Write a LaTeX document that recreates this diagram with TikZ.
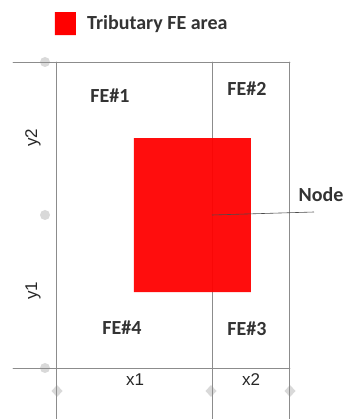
\documentclass[tikz,border=0pt]{standalone}
\usepackage{fontspec}
\setmainfont{Carlito}
\newfontfamily\axisfont{Liberation Sans}
\usepackage{tkz-euclide}
\usetikzlibrary{calc}
\definecolor{AreaClr}{rgb}{1,0,0}
\definecolor{GridClr}{rgb}{0.55,0.55,0.55}
\definecolor{TextClr}{rgb}{0.2,0.2,0.2}
\definecolor{BlobClr}{rgb}{0.85,0.85,0.85}
\tikzset{
  felabel/.style={font=\bfseries\fontsize{20}{20}\selectfont,text=TextClr,inner sep=0pt},
  spanlabel/.style={font=\axisfont\fontsize{17}{17}\selectfont,text=black!85,inner sep=0pt},
  blob/.style={fill=BlobClr,draw=none}
}

\begin{document}
\begin{tikzpicture}[scale=.3515]
\useasboundingbox (0,0) rectangle (34.5,41.9);
\tkzSetUpLine[line width=0.8pt,color=GridClr]

% grid points
\tkzDefPoints{1.3/35.7/L1,29.0/35.7/R1,1.3/5.1/L2,29.0/5.1/R2}
\tkzDefPoints{5.6/35.7/A1,5.6/0/A2,21.2/35.7/B1,21.2/0/B2,28.9/35.7/C1,28.9/0/C2}
% tributary area
\tkzDefPoints{13.4/28.1/T1,25.1/28.1/T2,25.1/12.7/T3,13.4/12.7/T4}
% legend
\tkzDefPoints{5.5/40.7/K1,7.6/40.7/K2,7.6/38.4/K3,5.5/38.4/K4}

% support blobs
\foreach \y in {35.7,20.4,5.1}
  \fill[blob] (4.5,\y) circle (0.5);
\foreach \x in {5.7,21.1,29.0}
  \fill[blob] (\x,3.4) -- (\x+0.55,2.8) -- (\x,2.2) -- (\x-0.55,2.8) -- cycle;

\tkzDrawSegments(L1,R1 L2,R2 A1,A2 B1,B2 C1,C2)

\tkzFillPolygon[fill=AreaClr,fill opacity=.95](T1,T2,T3,T4)
\tkzFillPolygon[fill=AreaClr](K1,K2,K3,K4)

\coordinate (nd) at (21.2,20.4);
\coordinate (ndend) at (31.4,20.7);
\node[felabel,anchor=east] (nodelbl) at (34.35,22.4) {Node};
\draw[line width=0.6pt,color=black!70] (nd) -- (ndend);

\node[felabel,anchor=west] (legend) at (8.7,39.5) {Tributary FE area};

\node[felabel] (fe1) at (11.0,32.3) {FE\#1};
\node[felabel] (fe2) at (24.7,33.0) {FE\#2};
\node[felabel] (fe3) at (24.7,9.0) {FE\#3};
\node[felabel] (fe4) at (12.2,9.1) {FE\#4};

\node[spanlabel] (x1) at (13.5,3.9) {x1};
\node[spanlabel] (x2) at (25.1,3.9) {x2};
\node[spanlabel,rotate=90] (y2) at (3.3,28.1) {y2};
\node[spanlabel,rotate=90] (y1) at (3.3,12.8) {y1};

\end{tikzpicture}
\end{document}
